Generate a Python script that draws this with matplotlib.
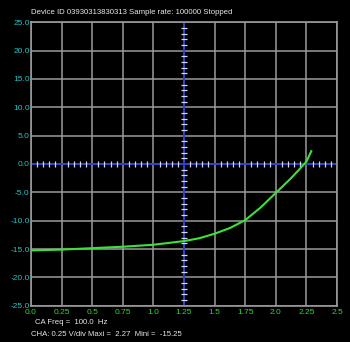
import matplotlib
matplotlib.use("Agg")
import matplotlib.pyplot as plt
import numpy as np

# --- Scope trace (volts vs seconds), read from the capture ------------------
time_s = [0.0, 0.25, 0.5, 0.75, 1.0, 1.25, 1.375, 1.5, 1.625, 1.75,
          1.875, 2.0, 2.125, 2.25, 2.29]
volts = [-15.25, -15.1, -14.85, -14.6, -14.25, -13.6, -13.1, -12.3, -11.3,
         -9.9, -7.7, -5.1, -2.5, 0.4, 2.27]

x_ticks = [0.0, 0.25, 0.5, 0.75, 1.0, 1.25, 1.5, 1.75, 2.0, 2.25, 2.5]
x_labels = ["0.0", "0.25", "0.5", "0.75", "1.0", "1.25", "1.5", "1.75",
            "2.0", "2.25", "2.5"]
y_ticks = [25.0, 20.0, 15.0, 10.0, 5.0, 0.0, -5.0, -10.0, -15.0, -20.0, -25.0]

header = "Device ID 03930313830313 Sample rate: 100000 Stopped"
freq_line = "CA Freq =  100.0  Hz"
chan_line = "CHA: 0.25 V/div Maxi =  2.27  Mini =  -15.25"

plt.rcParams["font.family"] = ["Liberation Sans", "DejaVu Sans"]

GRID = "#9a9a9a"
AXIS_BLUE = "#2a3ad8"
TRACE = "#3ae23a"
TICK_FS = 6
TEXT_FS = 5.6

fig = plt.figure(figsize=(3.5, 3.42), dpi=100, facecolor="black")
ax = fig.add_axes([31 / 350, 36.3 / 342, 306 / 350, 283.4 / 342])
ax.set_facecolor("black")

ax.set_xlim(0, 2.5)
ax.set_ylim(-25, 25)
ax.set_xticks(x_ticks)
ax.set_xticklabels(x_labels)
ax.set_yticks(y_ticks)
ax.set_yticklabels([f"{v:.1f}" for v in y_ticks])
ax.tick_params(axis="x", labelsize=TICK_FS, length=0, pad=2.5)
ax.tick_params(axis="y", labelsize=TICK_FS, length=0, pad=1)
for lbl in ax.get_xticklabels():
    lbl.set_color("#2ed82e")
for lbl in ax.get_yticklabels():
    lbl.set_color("#22c4c4")

ax.grid(True, color=GRID, linewidth=1.1)
ax.set_axisbelow(True)
for sp in ax.spines.values():
    sp.set_color(GRID)
    sp.set_linewidth(1.2)

# centre crosshair with fine division marks
ax.axhline(0, color=AXIS_BLUE, linewidth=1.3, zorder=2)
ax.axvline(1.25, color=AXIS_BLUE, linewidth=1.3, zorder=2)
xs = np.arange(0.05, 2.5, 0.05)
xs = xs[np.abs(xs / 0.25 - np.round(xs / 0.25)) > 1e-6]
ax.plot(xs, np.zeros_like(xs), ls="none", marker="|", ms=5, mew=0.9,
        color="#d8d8e8", zorder=3)
ys = np.arange(-24, 25, 1.0)
ys = ys[ys % 5 != 0]
ax.plot(np.full_like(ys, 1.25), ys, ls="none", marker="_", ms=5, mew=0.9,
        color="#d8d8e8", zorder=3)

ax.plot(time_s, volts, color=TRACE, linewidth=1.5, zorder=4)

fig.text(31 / 350, 1 - 13 / 342, header, color="#e8e8e8", fontsize=TEXT_FS,
         va="center", ha="left")
fig.text(35 / 350, 1 - 323 / 342, freq_line, color="#e8e8e8",
         fontsize=TEXT_FS, va="center", ha="left")
fig.text(31 / 350, 1 - 334 / 342, chan_line, color="#e8e8e8",
         fontsize=TEXT_FS, va="center", ha="left")

fig.savefig("out.png", dpi=100, facecolor="black")
